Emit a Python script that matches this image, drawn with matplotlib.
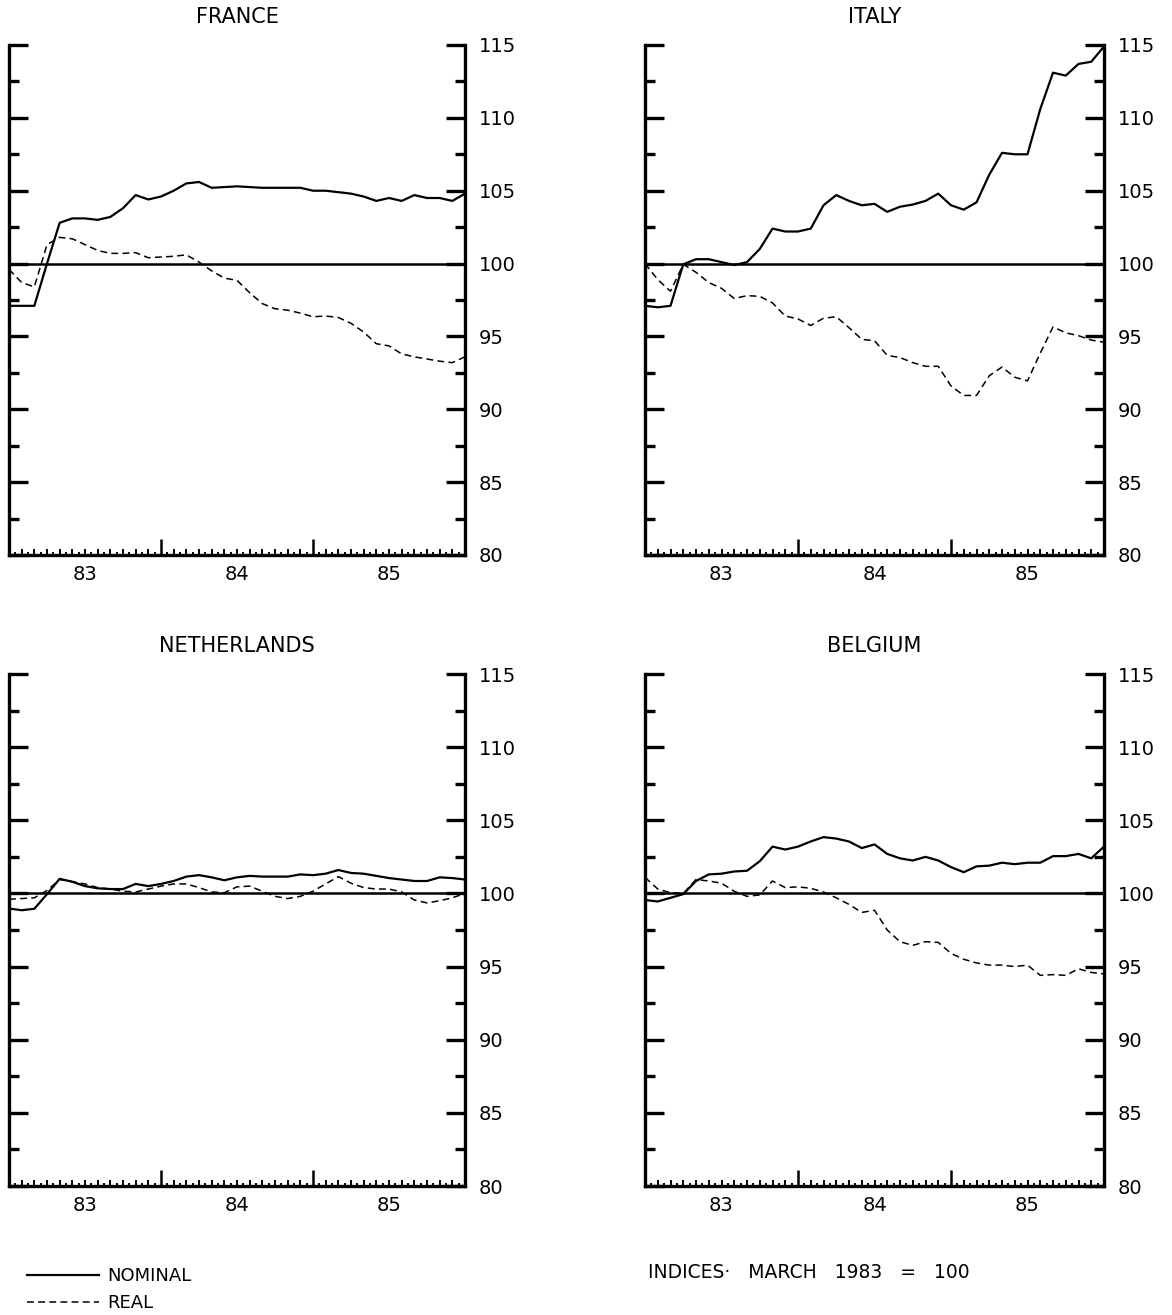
import matplotlib
matplotlib.use("Agg")
import matplotlib.pyplot as plt
import numpy as np
from matplotlib.ticker import MultipleLocator

# ---------------- data (monthly, Jan 1983 = 0 ... Jan 1986 = 36) ----------------
months = np.arange(37)
year_labels = ["83", "84", "85"]
year_label_pos = [6, 18, 30]
year_bounds = [12, 24]
y_ticks = [80, 85, 90, 95, 100, 105, 110, 115]
base_level = 100

france_nominal = [97.1, 97.1, 97.1, 100.0, 102.8, 103.1, 103.1, 103.0, 103.2, 103.8,
                  104.7, 104.4, 104.6, 105.0, 105.5, 105.6, 105.2, 105.25, 105.3, 105.25,
                  105.2, 105.2, 105.2, 105.2, 105.0, 105.0, 104.9, 104.8, 104.6, 104.3,
                  104.5, 104.3, 104.7, 104.5, 104.5, 104.3, 104.8]
france_real = [99.6, 98.7, 98.4, 101.3, 101.8, 101.7, 101.3, 100.9, 100.7, 100.7,
               100.75, 100.4, 100.45, 100.5, 100.6, 100.1, 99.5, 99.0, 98.85, 98.0,
               97.25, 96.9, 96.8, 96.6, 96.35, 96.4, 96.3, 95.9, 95.3, 94.5,
               94.35, 93.8, 93.6, 93.45, 93.3, 93.2, 93.6]

italy_nominal = [97.1, 97.0, 97.1, 99.95, 100.3, 100.3, 100.1, 99.9, 100.1, 101.0,
                 102.4, 102.2, 102.2, 102.4, 104.0, 104.7, 104.3, 104.0, 104.1, 103.55,
                 103.9, 104.05, 104.3, 104.8, 104.0, 103.7, 104.2, 106.1, 107.6, 107.5,
                 107.5, 110.6, 113.1, 112.9, 113.7, 113.85, 114.9]
italy_real = [100.0, 98.9, 98.1, 99.95, 99.4, 98.7, 98.3, 97.6, 97.8, 97.75,
              97.3, 96.4, 96.2, 95.75, 96.25, 96.35, 95.6, 94.8, 94.7, 93.7,
              93.55, 93.2, 92.95, 92.95, 91.6, 90.95, 90.95, 92.3, 92.9, 92.2,
              91.95, 93.85, 95.65, 95.25, 95.05, 94.75, 94.6]

netherlands_nominal = [98.97, 98.85, 98.95, 99.95, 101.0, 100.8, 100.5, 100.35, 100.3, 100.3,
                       100.65, 100.5, 100.65, 100.85, 101.15, 101.25, 101.1, 100.9, 101.1, 101.2,
                       101.15, 101.15, 101.15, 101.3, 101.25, 101.35, 101.6, 101.4, 101.35, 101.2,
                       101.05, 100.95, 100.85, 100.85, 101.1, 101.05, 100.95]
netherlands_real = [99.6, 99.65, 99.7, 100.2, 100.95, 100.8, 100.65, 100.4, 100.3, 100.15,
                    100.1, 100.3, 100.5, 100.65, 100.65, 100.4, 100.1, 100.05, 100.45, 100.5,
                    100.15, 99.8, 99.65, 99.8, 100.15, 100.65, 101.15, 100.7, 100.4, 100.3,
                    100.3, 100.1, 99.55, 99.35, 99.5, 99.7, 100.0]

belgium_nominal = [99.55, 99.45, 99.7, 99.95, 100.85, 101.3, 101.35, 101.5, 101.55, 102.2,
                   103.2, 103.0, 103.2, 103.55, 103.85, 103.75, 103.55, 103.1, 103.35, 102.7,
                   102.4, 102.25, 102.5, 102.25, 101.8, 101.45, 101.85, 101.9, 102.1, 102.0,
                   102.1, 102.1, 102.55, 102.55, 102.7, 102.4, 103.2]
belgium_real = [101.1, 100.3, 100.05, 100.0, 100.95, 100.85, 100.7, 100.15, 99.8, 99.9,
                100.85, 100.4, 100.45, 100.35, 100.1, 99.7, 99.25, 98.7, 98.85, 97.5,
                96.7, 96.45, 96.7, 96.65, 95.9, 95.5, 95.25, 95.1, 95.1, 95.0,
                95.1, 94.4, 94.45, 94.4, 94.85, 94.6, 94.5]

titles = ["FRANCE", "ITALY", "NETHERLANDS", "BELGIUM"]
nominal_series = [france_nominal, italy_nominal, netherlands_nominal, belgium_nominal]
real_series = [france_real, italy_real, netherlands_real, belgium_real]

# ---------------- figure ----------------
W, H = 1172, 1315
fig = plt.figure(figsize=(W / 100, H / 100), dpi=100)
plt.rcParams["font.family"] = ["DejaVu Sans"]

def rect(l, r, t, b):
    return [l / W, 1 - b / H, (r - l) / W, (b - t) / H]

rects = [rect(9, 465, 45, 555), rect(645, 1104, 45, 555),
         rect(9, 465, 674, 1186), rect(645, 1104, 674, 1186)]

ink = "black"
nom_handle = None
real_handle = None
for title, nom, real, rc in zip(titles, nominal_series, real_series, rects):
    ax = fig.add_axes(rc)
    ax.set_xlim(0, 36)
    ax.set_ylim(80, 115)
    ax.axhline(base_level, color=ink, lw=1.8)
    nom_handle, = ax.plot(months, nom, color=ink, lw=1.6, solid_joinstyle="round")
    real_handle, = ax.plot(months, real, color=ink, lw=1.1, linestyle=(0, (4.5, 2.8)))

    for side in ("left", "right", "bottom"):
        ax.spines[side].set_linewidth(2.4)
        ax.spines[side].set_capstyle("projecting")
    ax.spines["top"].set_visible(False)

    ax.set_yticks(y_ticks)
    ax.yaxis.set_minor_locator(MultipleLocator(2.5))
    ax.tick_params(axis="y", which="major", direction="in", length=14, width=2.4,
                   left=True, right=True, labelleft=False, labelright=True,
                   labelsize=14, pad=10)
    ax.tick_params(axis="y", which="minor", direction="in", length=7, width=2.4,
                   left=True, right=True)

    ax.set_xticks(year_bounds)
    ax.set_xticklabels([])
    ax.set_xticks(np.arange(1, 36), minor=True)
    ax.tick_params(axis="x", which="major", direction="in", length=11.5, width=1.8,
                   top=False)
    ax.tick_params(axis="x", which="minor", direction="in", length=4.5, width=1.4,
                   top=False)

    sec = ax.secondary_xaxis("bottom")
    sec.set_xticks(year_label_pos)
    sec.set_xticklabels(year_labels)
    sec.set_xticks(np.arange(0.5, 36, 1.0), minor=True)
    sec.tick_params(axis="x", which="major", length=0, pad=7, labelsize=14)
    sec.tick_params(axis="x", which="minor", direction="in", length=2.0, width=1.4)
    sec.spines["bottom"].set_visible(False)

    ax.text(0.5, 1.055, title, transform=ax.transAxes, ha="center", va="center",
            fontsize=15)

fig.legend([nom_handle, real_handle], ["NOMINAL", "REAL"], loc="upper left",
           bbox_to_anchor=(18 / W, 1 - 1258 / H), frameon=False, fontsize=13,
           handlelength=4.0, handletextpad=0.45, labelspacing=0.5, borderpad=0)
fig.text(648 / W, 1 - 1273 / H, "INDICES\u00b7   MARCH   1983   =   100", ha="left",
         va="center", fontsize=13.5)

fig.savefig("out.png", dpi=100)
